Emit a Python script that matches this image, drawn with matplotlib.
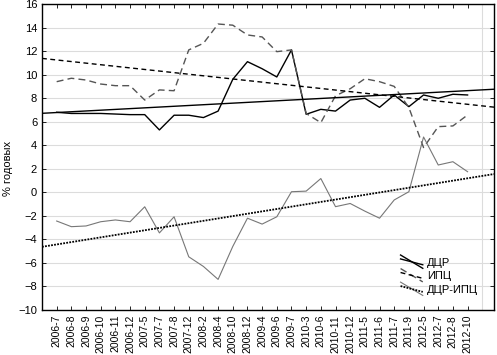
import numpy as np
import matplotlib
matplotlib.use("Agg")
import matplotlib.pyplot as plt
from matplotlib.lines import Line2D
from matplotlib.legend_handler import HandlerBase

plt.rcParams['font.family'] = ['Liberation Sans', 'DejaVu Sans']

# periods (x categories)
labels = ['2006-7', '2006-8', '2006-9', '2006-10', '2006-11', '2006-12', '2007-5',
          '2007-7', '2007-8', '2007-12', '2008-2', '2008-4', '2008-10', '2008-12',
          '2009-4', '2009-6', '2009-7', '2010-3', '2010-6', '2010-11', '2010-12',
          '2011-5', '2011-6', '2011-7', '2011-9', '2012-5', '2012-7', '2012-8', '2012-10']

# % annual
dcr = [6.8, 6.7, 6.7, 6.7, 6.65, 6.6, 6.6, 5.3, 6.55, 6.55, 6.35, 6.9, 9.6, 11.1,
       10.5, 9.8, 12.1, 6.63, 7.05, 6.9, 7.84, 7.99, 7.22, 8.27, 7.28, 8.27, 7.99, 8.33, 8.27]
cpi = [9.4, 9.69, 9.54, 9.2, 9.06, 9.06, 7.84, 8.7, 8.63, 12.1, 12.66, 14.3, 14.2, 13.37,
       13.2, 11.95, 12.1, 6.7, 5.92, 8.2, 8.8, 9.65, 9.4, 9.0, 7.2, 3.8, 5.58, 5.64, 6.57]
diff = [-2.44, -2.92, -2.86, -2.5, -2.35, -2.5, -1.23, -3.45, -2.08, -5.48, -6.3, -7.4,
        -4.6, -2.2, -2.7, -2.08, 0.05, 0.1, 1.17, -1.22, -0.95, -1.6, -2.2, -0.65, 0.05,
        4.7, 2.32, 2.6, 1.75]

x = np.arange(1, len(labels) + 1)
xlim = (0, 30.8)


class DiagHandler(HandlerBase):
    # statistica-like legend: series and its trend drawn as diagonal strokes
    def create_artists(self, legend, orig_handle, xdescent, ydescent,
                       width, height, fontsize, trans):
        series, trend = orig_handle
        l1 = Line2D([0, width], [height + 2, -2])
        l1.update_from(series)
        l2 = Line2D([0, width], [height * 0.85, height * 0.1])
        l2.update_from(trend)
        for l in (l1, l2):
            l.set_transform(trans)
        return [l1, l2]


fig = plt.figure(figsize=(4.97, 3.55), dpi=100)
ax = fig.add_axes([42 / 497, 1 - 310 / 355, 452 / 497, 306 / 355])

s1, = ax.plot(x, dcr, color='black', lw=1.0)
s2, = ax.plot(x, cpi, color='#555555', lw=1.0, linestyle=(0, (5, 3)))
s3, = ax.plot(x, diff, color='#777777', lw=0.8)

xx = np.array(xlim)
k, b = np.polyfit(x, dcr, 1)
t1, = ax.plot(xx, k * xx + b, color='black', lw=1.0)
k, b = np.polyfit(x, cpi, 1)
t2, = ax.plot(xx, k * xx + b, color='black', lw=1.0, linestyle=(0, (3.5, 2.5)))
k, b = np.polyfit(x, diff, 1)
t3, = ax.plot(xx, k * xx + b, color='black', lw=1.3, linestyle=(0, (1, 0.7)))

ax.set_xlim(*xlim)
ax.set_ylim(-10, 16)
ax.set_yticks(np.arange(-10, 17, 2))
ax.set_xticks(x)
ax.set_xticklabels(labels, rotation=90, fontsize=7.5)
ax.set_xticks(np.arange(5, 31, 5), minor=True)
ax.tick_params(axis='y', labelsize=8)
ax.tick_params(which='major', direction='in', top=True, right=True, length=3, width=0.6)
ax.tick_params(which='minor', length=0)
ax.grid(axis='y', which='major', color='#dcdcdc', lw=0.8)
ax.grid(axis='x', which='minor', color='#dcdcdc', lw=0.8)
ax.set_axisbelow(True)
for sp in ax.spines.values():
    sp.set_linewidth(1.0)

fig.text(8 / 497, 1 - 168 / 355, '% годовых', rotation=90, fontsize=8,
         ha='center', va='center')

ax.legend([(s1, t1), (s2, t2), (s3, t3)], ['ДЦР', 'ИПЦ', 'ДЦР-ИПЦ'],
          handler_map={tuple: DiagHandler()}, frameon=False, fontsize=8,
          loc='upper left', bbox_to_anchor=(395 / 497, 1 - 252 / 355),
          bbox_transform=fig.transFigure, handlelength=2.0, handletextpad=0.35,
          labelspacing=0.32, borderpad=0)

fig.savefig('out.png', dpi=100)
